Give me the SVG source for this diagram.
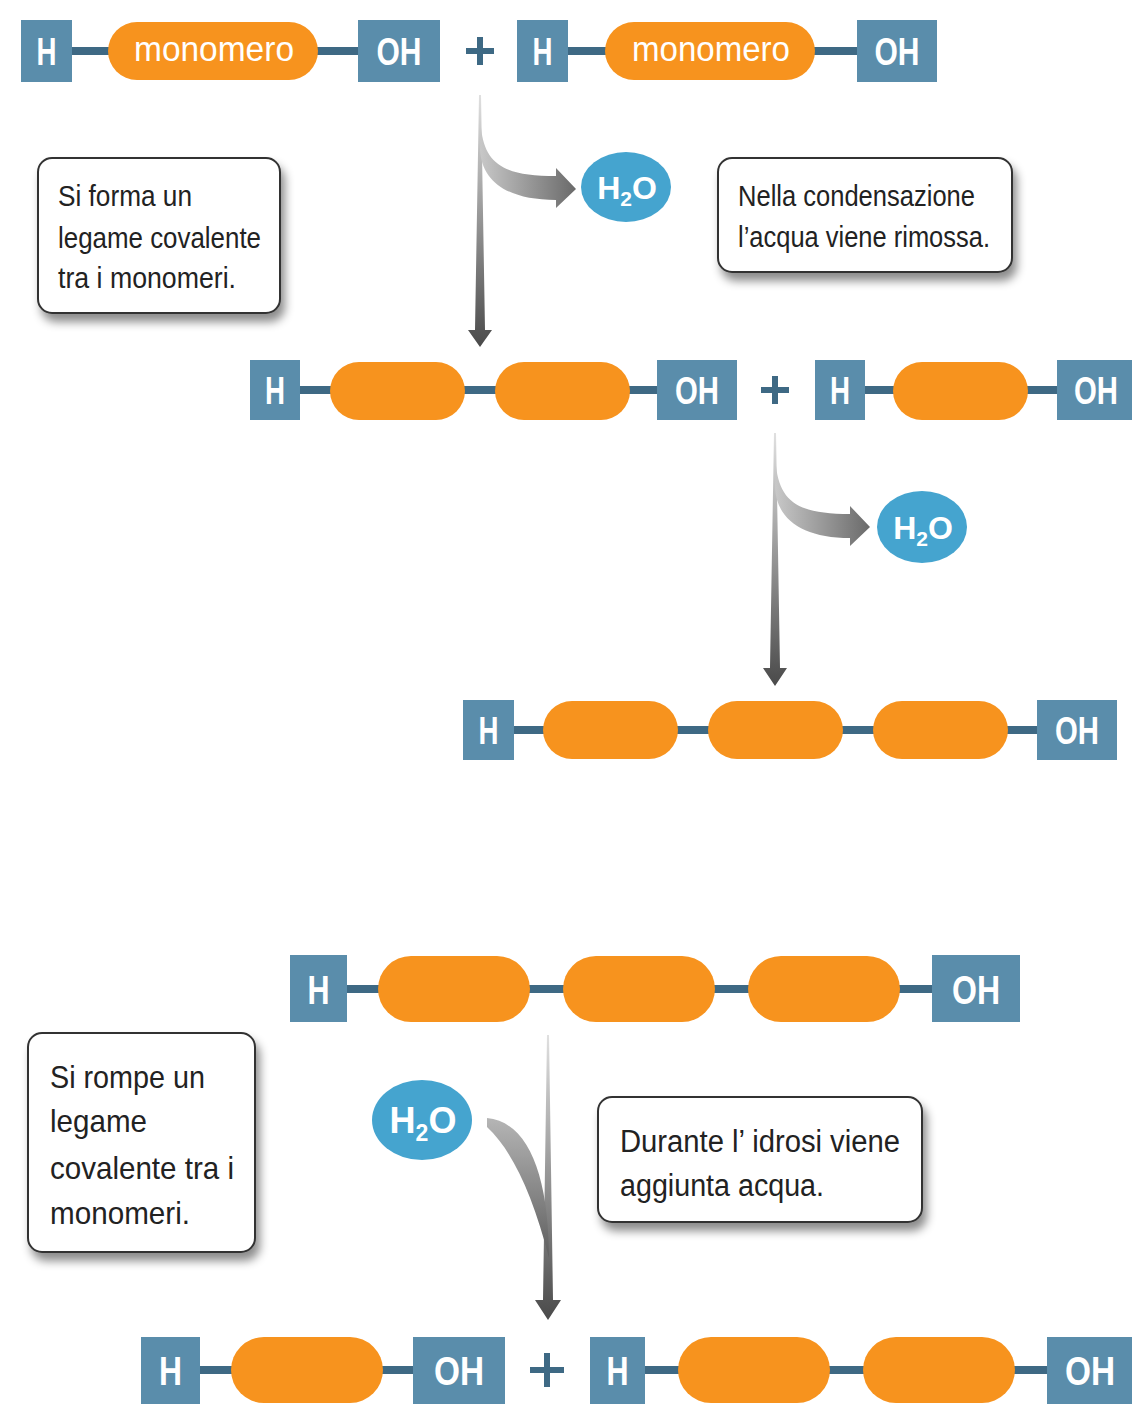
<svg xmlns="http://www.w3.org/2000/svg" width="1132" height="1404" viewBox="0 0 1132 1404">
<defs>
<style>
.box{fill:#5a8dab}
.bond{stroke:#3e6984;stroke-width:8}
.pill{fill:#f7931e}
.lbl{fill:#fff;font-family:"Liberation Sans",Arial,sans-serif;font-weight:bold;font-size:38px;text-anchor:middle}
.mono{fill:#fff;font-family:"Liberation Sans",Arial,sans-serif;font-size:35px;text-anchor:middle}
.plus{stroke:#3e6984;stroke-width:6}
.note{fill:#fff;stroke:#333;stroke-width:2}
.ntxt{fill:#222;font-family:"Liberation Sans",Arial,sans-serif;font-size:29px}
.water{fill:#45a4cf}
.wtxt{fill:#fff;font-family:"Liberation Sans",Arial,sans-serif;font-weight:bold;font-size:32px;text-anchor:middle}
.wsub{font-size:21px}
</style>
<filter id="sh" x="-20%" y="-20%" width="150%" height="160%">
<feDropShadow dx="4" dy="8" stdDeviation="5" flood-color="#000" flood-opacity="0.45"/>
</filter>
<linearGradient id="gv" x1="0" y1="0" x2="0" y2="1">
<stop offset="0" stop-color="#e0e0e0"/>
<stop offset="1" stop-color="#4a4a4a"/>
</linearGradient>
<linearGradient id="gh" x1="0" y1="0" x2="1" y2="0">
<stop offset="0" stop-color="#c8c8c8"/>
<stop offset="1" stop-color="#6a6a6a"/>
</linearGradient>
<linearGradient id="gb" x1="0" y1="0" x2="0" y2="1">
<stop offset="0" stop-color="#b5b5b5"/>
<stop offset="1" stop-color="#5e5e5e"/>
</linearGradient>
</defs>
<rect width="1132" height="1404" fill="#fff"/>

<g id="connectors">
<path d="M479,95 L481,95 L485,330 L492,330 L480,347 L468,330 L475,330 Z" fill="url(#gv)"/>
<path d="M481,128 C485,165 505,176 556,176 L556,168 L576,189 L556,208 L556,200 C508,200 482,182 480,150 Z" fill="url(#gh)"/>
<path d="M774,433 L776,433 L780,668 L787,668 L775,686 L763,668 L770,668 Z" fill="url(#gv)"/>
<path d="M776,466 C780,503 800,514 850,514 L850,506 L870,527 L850,546 L850,538 C803,538 777,520 775,488 Z" fill="url(#gh)"/>
<path d="M547,1035 L549,1035 L553,1300 L561,1300 L548,1320 L535,1300 L543,1300 Z" fill="url(#gv)"/>
<path d="M487,1118 C530,1122 549,1180 549,1258 C533,1195 512,1150 487,1127 Z" fill="url(#gb)"/>
</g>

<g id="row1">
<line class="bond" x1="60" y1="51" x2="370" y2="51"/>
<rect class="box" x="21" y="20" width="51" height="62"/>
<text class="lbl" x="46.5" y="65" textLength="20" lengthAdjust="spacingAndGlyphs">H</text>
<rect class="pill" x="108" y="22" width="210" height="58" rx="29"/>
<text class="mono" x="214" y="61" textLength="160" lengthAdjust="spacingAndGlyphs">monomero</text>
<rect class="box" x="358" y="20" width="82" height="62"/>
<text class="lbl" x="399" y="65" textLength="45" lengthAdjust="spacingAndGlyphs">OH</text>
<line class="plus" x1="466" y1="51" x2="494" y2="51"/><line class="plus" x1="480" y1="37" x2="480" y2="65"/>
<line class="bond" x1="560" y1="51" x2="870" y2="51"/>
<rect class="box" x="517" y="20" width="51" height="62"/>
<text class="lbl" x="542.5" y="65" textLength="20" lengthAdjust="spacingAndGlyphs">H</text>
<rect class="pill" x="605" y="22" width="210" height="58" rx="29"/>
<text class="mono" x="711" y="61" textLength="158" lengthAdjust="spacingAndGlyphs">monomero</text>
<rect class="box" x="857" y="20" width="80" height="62"/>
<text class="lbl" x="897" y="65" textLength="45" lengthAdjust="spacingAndGlyphs">OH</text>
</g>

<g id="water1">
<ellipse class="water" cx="626" cy="187" rx="45" ry="35"/>
<text class="wtxt" x="627" y="199">H<tspan class="wsub" dy="7">2</tspan><tspan dy="-7">O</tspan></text>
</g>

<g id="note1">
<rect class="note" x="38" y="158" width="242" height="155" rx="14" filter="url(#sh)"/>
<text class="ntxt" x="58" y="206" textLength="134" lengthAdjust="spacingAndGlyphs">Si forma un</text>
<text class="ntxt" x="58" y="248" textLength="203" lengthAdjust="spacingAndGlyphs">legame covalente</text>
<text class="ntxt" x="58" y="288" textLength="178" lengthAdjust="spacingAndGlyphs">tra i monomeri.</text>
</g>

<g id="note2">
<rect class="note" x="718" y="158" width="294" height="114" rx="14" filter="url(#sh)"/>
<text class="ntxt" x="738" y="206" textLength="237" lengthAdjust="spacingAndGlyphs">Nella condensazione</text>
<text class="ntxt" x="738" y="247" textLength="252" lengthAdjust="spacingAndGlyphs">l’acqua viene rimossa.</text>
</g>

<g id="row2">
<line class="bond" x1="290" y1="390" x2="670" y2="390"/>
<rect class="box" x="250" y="360" width="50" height="60"/>
<text class="lbl" x="275" y="404" textLength="20" lengthAdjust="spacingAndGlyphs">H</text>
<rect class="pill" x="330" y="362" width="135" height="58" rx="29"/>
<rect class="pill" x="495" y="362" width="135" height="58" rx="29"/>
<rect class="box" x="657" y="360" width="80" height="60"/>
<text class="lbl" x="697" y="404" textLength="44" lengthAdjust="spacingAndGlyphs">OH</text>
<line class="plus" x1="761" y1="390" x2="789" y2="390"/><line class="plus" x1="775" y1="376" x2="775" y2="404"/>
<line class="bond" x1="855" y1="390" x2="1070" y2="390"/>
<rect class="box" x="815" y="360" width="50" height="60"/>
<text class="lbl" x="840" y="404" textLength="20" lengthAdjust="spacingAndGlyphs">H</text>
<rect class="pill" x="893" y="362" width="135" height="58" rx="29"/>
<rect class="box" x="1057" y="360" width="75" height="60"/>
<text class="lbl" x="1096" y="404" textLength="44" lengthAdjust="spacingAndGlyphs">OH</text>
</g>

<g id="water2">
<ellipse class="water" cx="922" cy="527" rx="45" ry="36"/>
<text class="wtxt" x="923" y="539">H<tspan class="wsub" dy="7">2</tspan><tspan dy="-7">O</tspan></text>
</g>

<g id="row3">
<line class="bond" x1="500" y1="730" x2="1050" y2="730"/>
<rect class="box" x="463" y="700" width="51" height="60"/>
<text class="lbl" x="488.5" y="744" textLength="20" lengthAdjust="spacingAndGlyphs">H</text>
<rect class="pill" x="543" y="701" width="135" height="58" rx="29"/>
<rect class="pill" x="708" y="701" width="135" height="58" rx="29"/>
<rect class="pill" x="873" y="701" width="135" height="58" rx="29"/>
<rect class="box" x="1037" y="700" width="80" height="60"/>
<text class="lbl" x="1077" y="744" textLength="44" lengthAdjust="spacingAndGlyphs">OH</text>
</g>

<g id="row4">
<line class="bond" x1="330" y1="989" x2="950" y2="989"/>
<rect class="box" x="290" y="955" width="57" height="67"/>
<text class="lbl" x="318.5" y="1004" style="font-size:41px" textLength="22" lengthAdjust="spacingAndGlyphs">H</text>
<rect class="pill" x="378" y="956" width="152" height="66" rx="33"/>
<rect class="pill" x="563" y="956" width="152" height="66" rx="33"/>
<rect class="pill" x="748" y="956" width="152" height="66" rx="33"/>
<rect class="box" x="932" y="955" width="88" height="67"/>
<text class="lbl" x="976" y="1004" style="font-size:41px" textLength="48" lengthAdjust="spacingAndGlyphs">OH</text>
</g>

<g id="water3">
<ellipse class="water" cx="422" cy="1120" rx="50" ry="40"/>
<text class="wtxt" x="423" y="1133" style="font-size:36px">H<tspan class="wsub" dy="8" style="font-size:23px">2</tspan><tspan dy="-8">O</tspan></text>
</g>

<g id="note3">
<rect class="note" x="28" y="1033" width="227" height="219" rx="14" filter="url(#sh)"/>
<text class="ntxt" x="50" y="1088" style="font-size:32px" textLength="155" lengthAdjust="spacingAndGlyphs">Si rompe un</text>
<text class="ntxt" x="50" y="1132" style="font-size:32px" textLength="97" lengthAdjust="spacingAndGlyphs">legame</text>
<text class="ntxt" x="50" y="1179" style="font-size:32px" textLength="184" lengthAdjust="spacingAndGlyphs">covalente tra i</text>
<text class="ntxt" x="50" y="1224" style="font-size:32px" textLength="140" lengthAdjust="spacingAndGlyphs">monomeri.</text>
</g>

<g id="note4">
<rect class="note" x="598" y="1097" width="324" height="125" rx="14" filter="url(#sh)"/>
<text class="ntxt" x="620" y="1152" style="font-size:31px" textLength="280" lengthAdjust="spacingAndGlyphs">Durante l’ idrosi viene</text>
<text class="ntxt" x="620" y="1196" style="font-size:31px" textLength="204" lengthAdjust="spacingAndGlyphs">aggiunta acqua.</text>
</g>

<g id="row5">
<line class="bond" x1="180" y1="1370" x2="430" y2="1370"/>
<rect class="box" x="141" y="1337" width="59" height="67"/>
<text class="lbl" x="170.5" y="1385" style="font-size:41px" textLength="23" lengthAdjust="spacingAndGlyphs">H</text>
<rect class="pill" x="231" y="1337" width="152" height="66" rx="33"/>
<rect class="box" x="413" y="1337" width="92" height="67"/>
<text class="lbl" x="459" y="1385" style="font-size:41px" textLength="50" lengthAdjust="spacingAndGlyphs">OH</text>
<line class="plus" x1="530" y1="1370" x2="564" y2="1370"/><line class="plus" x1="547" y1="1353" x2="547" y2="1387"/>
<line class="bond" x1="630" y1="1370" x2="1060" y2="1370"/>
<rect class="box" x="590" y="1337" width="55" height="67"/>
<text class="lbl" x="617.5" y="1385" style="font-size:41px" textLength="22" lengthAdjust="spacingAndGlyphs">H</text>
<rect class="pill" x="678" y="1337" width="152" height="66" rx="33"/>
<rect class="pill" x="863" y="1337" width="152" height="66" rx="33"/>
<rect class="box" x="1047" y="1337" width="85" height="67"/>
<text class="lbl" x="1090" y="1385" style="font-size:41px" textLength="50" lengthAdjust="spacingAndGlyphs">OH</text>
</g>
</svg>
